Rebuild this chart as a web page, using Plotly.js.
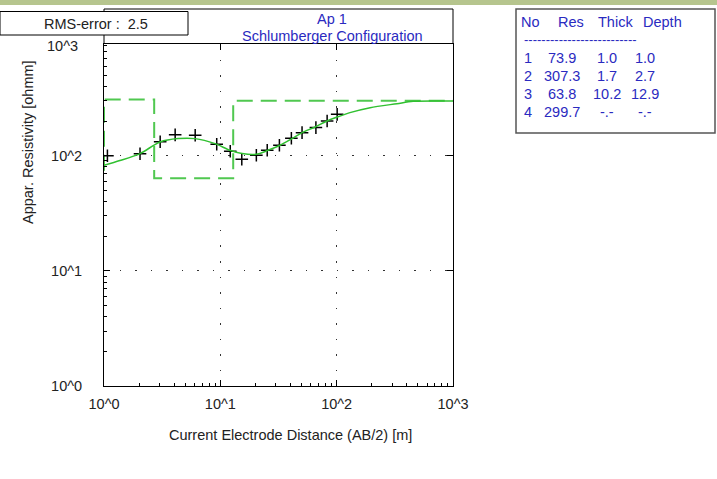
<!DOCTYPE html>
<html><head><meta charset="utf-8">
<script src="https://cdn.plot.ly/plotly-3.0.1.min.js"></script>
<style>html,body{margin:0;padding:0;background:#fff;} #chart{width:717px;height:479px;}</style>
</head><body><div id="chart"></div>
<script>
// ---- data ----
const measAB2 = [1.07, 2.04, 3.04, 4.09, 6.08, 9.31, 12.17, 15.29, 20.4, 25.3, 32.2, 40.8, 50.4, 66.3, 82.8, 101];
const measRho = [99.8, 103.9, 132, 151.7, 150.3, 125.6, 109.2, 93.1, 100.8, 111.4, 123.1, 141.6, 158.6, 175.4, 200, 228.6];
const fitAB2 = [1, 1.37, 2.04, 3.03, 4.33, 6.06, 9.0, 12.1, 15.4, 20.3, 25.7, 32.6, 41.3, 50.4, 65.2, 82.6, 101, 130, 194, 330, 454, 1000];
const fitRho = [82.5, 90.7, 104.3, 131.5, 140.7, 140.7, 127.4, 111.4, 104.3, 102.8, 111.4, 123.1, 140.7, 158.6, 177.4, 200, 216.6, 236.6, 261.3, 283, 296.5, 298];
const layerNo = ['1', '2', '3', '4'];
const layerRes = [73.9, 307.3, 63.8, 299.7];
const layerThick = ['1.0', '1.7', '10.2', '-.-'];
const layerDepth = ['1.0', '2.7', '12.9', '-.-'];
const modelDepth = [1.0, 2.7, 12.9];
const tableHeader = ['No', 'Res', 'Thick', 'Depth'];
const xTickVals = [1, 10, 100, 1000];
const xTickText = ['10^0', '10^1', '10^2', '10^3'];
const yTickVals = [1, 10, 100, 1000];
const yTickText = ['10^0', '10^1', '10^2', '10^3'];
const rmsError = 2.5;
const titleLines = ['Ap 1', 'Schlumberger Configuration'];
const xTitle = 'Current Electrode Distance (AB/2) [m]';
const yTitle = 'Appar. Resistivity [ohmm]';

// ---- layout geometry (pixels) ----
const L = 104, R = 453, T = 44, B = 386;
const px = x => (x - L) / (R - L);
const py = y => (B - y) / (B - T);
const xRange = [0, 3], yRange = [0, 2.97];
const FONT = 'Liberation Sans, Arial, sans-serif';
const FS = 14.5;
const BLUE = '#2a2ac0';
const GREEN = '#46c446';

// model step curve from layers
const stepX = [Math.pow(10, xRange[0])], stepY = [layerRes[0]];
modelDepth.forEach((d, i) => { stepX.push(d, d); stepY.push(layerRes[i], layerRes[i + 1]); });
stepX.push(Math.pow(10, xRange[1])); stepY.push(layerRes[layerRes.length - 1]);

const traces = [
  {x: stepX, y: stepY, mode: 'lines', line: {color: '#50c850', width: 2, dash: '16px,8px'}, hoverinfo: 'skip'},
  {x: fitAB2, y: fitRho, xaxis: 'x2', yaxis: 'y2', mode: 'lines', line: {color: '#30c030', width: 1.5, shape: 'spline', smoothing: 0.8}, hoverinfo: 'skip'},
  {x: measAB2, y: measRho, mode: 'markers', marker: {symbol: 'cross-thin', size: 9, line: {color: '#000', width: 1.5}, color: '#000'}, hoverinfo: 'skip'}
];

const axBase = {
  type: 'log', showline: true, linecolor: '#000', linewidth: 1, zeroline: false,
  ticks: 'inside', ticklen: 6, tickcolor: '#000', tickwidth: 1, fixedrange: true,
  showgrid: true, gridcolor: '#333', gridwidth: 1.2, griddash: '1.5px,14px',
  tickfont: {family: FONT, size: FS, color: '#222'},
  minor: {ticks: 'inside', ticklen: 3, tickcolor: '#000', dtick: 'D1', showgrid: false}
};

const ann = [];
const A = (text, x, y, opts) => ann.push(Object.assign({text, xref: 'paper', yref: 'paper', x: px(x), y: py(y), showarrow: false,
  xanchor: 'center', yanchor: 'middle', font: {family: FONT, size: FS, color: '#222'}}, opts || {}));

A(yTickText[3], 80, 46, {xanchor: 'right'});
A(titleLines[0], 332, 19, {font: {family: FONT, size: FS, color: BLUE}});
A(titleLines[1], 332, 36, {font: {family: FONT, size: FS, color: BLUE}});
A(xTitle, 290, 435);
A(yTitle, 28, 142, {textangle: -90});
A('RMS-error :  ' + rmsError.toFixed(1), 42, 24, {xanchor: 'left'});

const hdrX = [530, 571, 615, 662];
const colX = [528, 562, 607, 645];
const rowY = [58, 76, 94, 112];
const tf = {family: FONT, size: FS, color: BLUE};
tableHeader.forEach((h, i) => A(h, hdrX[i], 22, {font: tf}));
A('--------------------------', 522, 39, {xanchor: 'left', font: {family: FONT, size: 13, color: BLUE}});
layerNo.forEach((n, i) => {
  A(n, colX[0], rowY[i], {font: tf});
  A(layerRes[i].toFixed(1), colX[1], rowY[i], {font: tf});
  A(layerThick[i], colX[2], rowY[i], {font: tf});
  A(layerDepth[i], colX[3], rowY[i], {font: tf});
});

const shp = [];
const S = (x0, y0, x1, y1, opts) => shp.push(Object.assign({type: 'rect', xref: 'paper', yref: 'paper',
  x0: px(x0), x1: px(x1), y0: py(y0), y1: py(y1), line: {width: 0}}, opts || {}));
const Ln = (x0, y0, x1, y1, opts) => shp.push(Object.assign({type: 'line', xref: 'paper', yref: 'paper',
  x0: px(x0), x1: px(x1), y0: py(y0), y1: py(y1), line: {color: '#000', width: 1}}, opts || {}));

S(0, 0, 717, 5, {fillcolor: '#b6c58e', layer: 'above'});
Ln(L, 9, R, 9);
Ln(L, 9, L, T);
Ln(R, 9, R, T);
S(0, 11.5, 188, 35, {fillcolor: '#fff', line: {color: '#000', width: 1}});
S(516, 9, 715, 133, {fillcolor: '#fff', line: {color: '#555', width: 1.5}});

const layout = {
  width: 717, height: 479, margin: {l: L, r: 717 - R, t: T, b: 479 - B, pad: 0},
  paper_bgcolor: '#fff', plot_bgcolor: '#fff', showlegend: false,
  font: {family: FONT, size: FS, color: '#222'},
  xaxis: Object.assign({}, axBase, {range: xRange, tickvals: xTickVals, ticktext: xTickText, ticklabelstandoff: 5}),
  yaxis: Object.assign({}, axBase, {range: yRange, tickvals: yTickVals, ticktext: yTickText, ticklabelstandoff: 18}),
  xaxis2: {type: 'log', range: xRange, overlaying: 'x', side: 'top', anchor: 'y', showline: true, linecolor: '#000',
    ticks: 'inside', ticklen: 6, tickcolor: '#000', tickvals: [10, 100], showticklabels: false, showgrid: false, zeroline: false, fixedrange: true},
  yaxis2: {type: 'log', range: yRange, overlaying: 'y', side: 'right', anchor: 'x', showline: true, linecolor: '#000',
    ticks: 'inside', ticklen: 6, tickcolor: '#000', tickvals: [10, 100], showticklabels: false, showgrid: false, zeroline: false, fixedrange: true},
  annotations: ann,
  shapes: shp
};

Plotly.newPlot('chart', traces, layout, {displayModeBar: false, staticPlot: true});
</script>
</body></html>
